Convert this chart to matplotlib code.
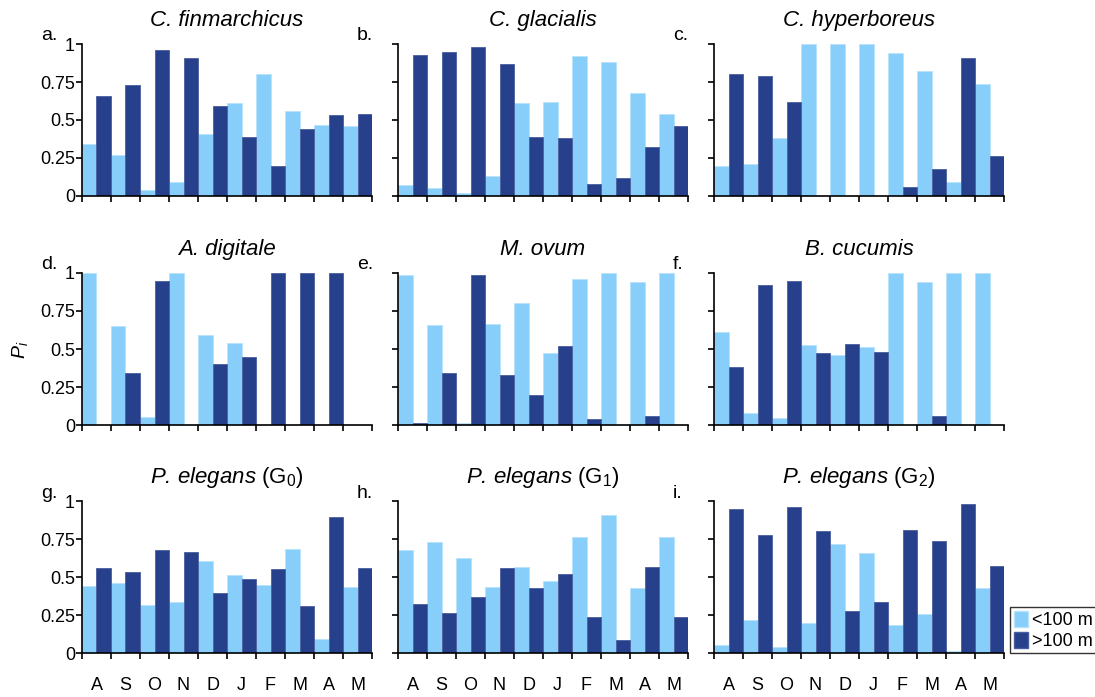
import matplotlib
matplotlib.use("Agg")
import matplotlib.pyplot as plt
from matplotlib.patches import Patch

plt.rcParams['font.family'] = ['Liberation Sans', 'DejaVu Sans']
plt.rcParams['mathtext.fontset'] = 'custom'
plt.rcParams['mathtext.rm'] = 'Liberation Sans'
plt.rcParams['mathtext.it'] = 'Liberation Sans:italic'

months = ['A', 'S', 'O', 'N', 'D', 'J', 'F', 'M', 'A', 'M']

titles = ['C. finmarchicus', 'C. glacialis', 'C. hyperboreus',
          'A. digitale', 'M. ovum', 'B. cucumis',
          r'P. elegans $(\mathrm{G}_0)$', r'P. elegans $(\mathrm{G}_1)$',
          r'P. elegans $(\mathrm{G}_2)$']
letters = ['a.', 'b.', 'c.', 'd.', 'e.', 'f.', 'g.', 'h.', 'i.']

# proportion above 100 m (<100 m) and below 100 m (>100 m)
fin_shallow = [0.34, 0.27, 0.04, 0.09, 0.41, 0.61, 0.80, 0.56, 0.47, 0.46]
fin_deep = [0.66, 0.73, 0.96, 0.91, 0.59, 0.39, 0.20, 0.44, 0.53, 0.54]
gla_shallow = [0.07, 0.05, 0.02, 0.13, 0.61, 0.62, 0.92, 0.88, 0.68, 0.54]
gla_deep = [0.93, 0.95, 0.98, 0.87, 0.39, 0.38, 0.08, 0.12, 0.32, 0.46]
hyp_shallow = [0.20, 0.21, 0.38, 1.00, 1.00, 1.00, 0.94, 0.82, 0.09, 0.74]
hyp_deep = [0.80, 0.79, 0.62, 0.0, 0.0, 0.0, 0.06, 0.18, 0.91, 0.26]
dig_shallow = [1.00, 0.65, 0.05, 1.00, 0.59, 0.54, 0.0, 0.0, 0.0, 0.0]
dig_deep = [0.0, 0.345, 0.945, 0.0, 0.40, 0.45, 1.00, 1.00, 1.00, 0.0]
ovu_shallow = [0.99, 0.655, 0.013, 0.667, 0.80, 0.476, 0.96, 1.00, 0.94, 1.00]
ovu_deep = [0.01, 0.34, 0.985, 0.327, 0.20, 0.52, 0.037, 0.0, 0.057, 0.0]
cuc_shallow = [0.614, 0.077, 0.048, 0.524, 0.463, 0.515, 1.00, 0.94, 1.00, 1.00]
cuc_deep = [0.384, 0.923, 0.945, 0.471, 0.533, 0.48, 0.0, 0.057, 0.0, 0.0]
g0_shallow = [0.443, 0.458, 0.317, 0.336, 0.603, 0.511, 0.445, 0.681, 0.094, 0.437]
g0_deep = [0.557, 0.535, 0.677, 0.662, 0.393, 0.487, 0.55, 0.312, 0.897, 0.559]
g1_shallow = [0.677, 0.73, 0.622, 0.434, 0.568, 0.476, 0.76, 0.91, 0.43, 0.76]
g1_deep = [0.32, 0.262, 0.371, 0.561, 0.426, 0.52, 0.234, 0.083, 0.568, 0.234]
g2_shallow = [0.05, 0.218, 0.037, 0.20, 0.716, 0.655, 0.186, 0.258, 0.015, 0.43]
g2_deep = [0.95, 0.777, 0.958, 0.80, 0.277, 0.336, 0.808, 0.74, 0.978, 0.57]

shallow = [fin_shallow, gla_shallow, hyp_shallow, dig_shallow, ovu_shallow,
           cuc_shallow, g0_shallow, g1_shallow, g2_shallow]
deep = [fin_deep, gla_deep, hyp_deep, dig_deep, ovu_deep,
        cuc_deep, g0_deep, g1_deep, g2_deep]

c_light = '#87CEFA'
c_dark = '#27408B'

W, H = 1095, 697
fig = plt.figure(figsize=(W / 100, H / 100), dpi=100)

lefts = [82, 398, 714]
tops = [44, 273, 501]
aw, ah = 290, 152

for k in range(9):
    r, c = divmod(k, 3)
    ax = fig.add_axes([lefts[c] / W, 1 - (tops[r] + ah) / H, aw / W, ah / H])
    x = range(len(months))
    ax.bar([i + 0.25 for i in x], shallow[k], width=0.5, color=c_light,
           edgecolor='#B8E2FB', linewidth=0.6)
    ax.bar([i + 0.75 for i in x], deep[k], width=0.5, color=c_dark,
           edgecolor='#4A5E9E', linewidth=0.6)
    ax.set_xlim(0, 10)
    ax.set_ylim(0, 1)
    for s in ['top', 'right']:
        ax.spines[s].set_visible(False)
    ax.spines['left'].set_linewidth(1.2)
    ax.spines['bottom'].set_linewidth(1.2)
    ax.set_xticks(range(11))
    ax.set_xticklabels([])
    ax.tick_params(axis='x', direction='out', length=4, width=1.2)
    ax.set_xticks([i + 0.5 for i in x], minor=True)
    ax.tick_params(axis='x', which='minor', length=0)
    if r == 2:
        ax.set_xticklabels(months, minor=True, fontsize=13)
        ax.tick_params(axis='x', which='minor', pad=17)
    ax.set_yticks([0, 0.25, 0.5, 0.75, 1])
    ax.tick_params(axis='y', direction='out', length=4, width=1.2)
    if c == 0:
        ax.set_yticklabels(['0', '0.25', '0.5', '0.75', '1'], fontsize=13)
        ax.tick_params(axis='y', pad=1)
    else:
        ax.set_yticklabels([])
    ax.set_title(titles[k], fontsize=16, fontstyle='italic', pad=13)
    fig.text((lefts[c] - 41) / W, 1 - (tops[r] - 8) / H, letters[k],
             fontsize=14, ha='left', va='center')

fig.text(20 / W, 1 - 350 / H, r'$P_i$', rotation=90, fontsize=14,
         ha='center', va='center')

handles = [Patch(facecolor=c_light, edgecolor='#B8E2FB', label='<100 m'),
           Patch(facecolor=c_dark, edgecolor='#4A5E9E', label='>100 m')]
fig.legend(handles=handles, loc='upper left',
           bbox_to_anchor=(1010 / W, 1 - 607 / H), fontsize=13,
           frameon=True, fancybox=False, edgecolor='black',
           handlelength=0.8, handleheight=1.0, handletextpad=0.2,
           borderpad=0.2, labelspacing=0.15, borderaxespad=0)

fig.savefig('out.png', dpi=100)
